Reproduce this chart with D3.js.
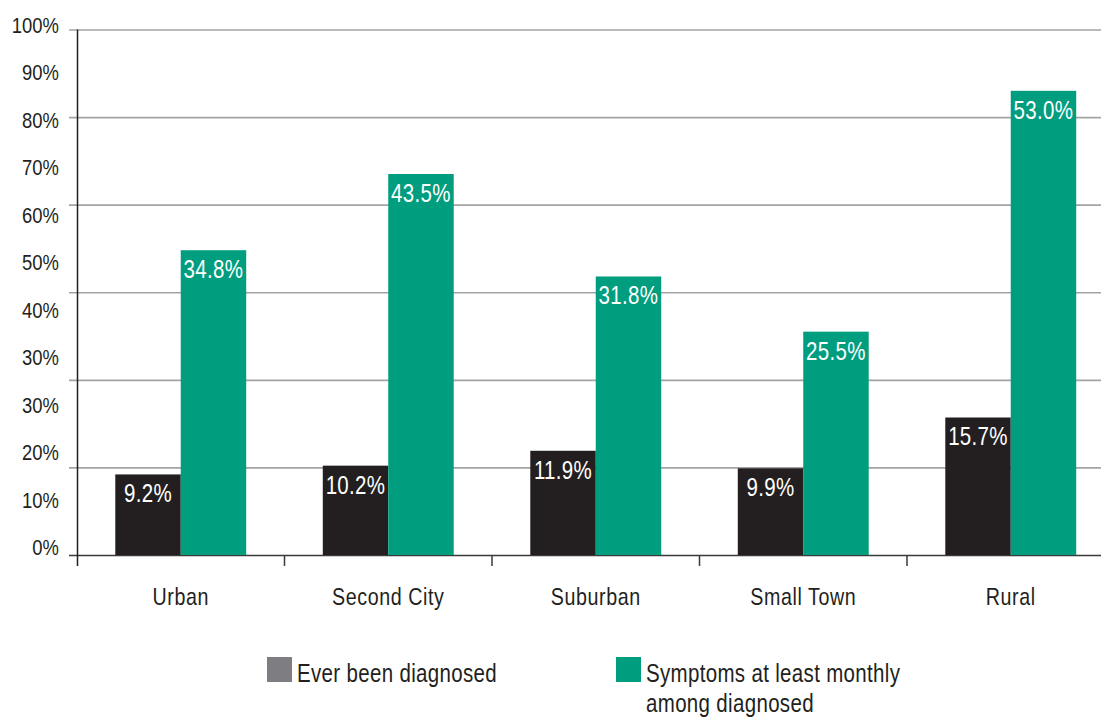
<!DOCTYPE html>
<html>
<head>
<meta charset="utf-8">
<script src="https://cdn.jsdelivr.net/npm/d3@7"></script>
<style>
  html, body { margin: 0; padding: 0; background: #fff; }
  svg { display: block; }
  text { font-family: "Liberation Sans", Arial, sans-serif; fill: #231f20; }
</style>
</head>
<body>
<svg id="chart" width="1101" height="717"></svg>
<script>
// Area type categories and the two series (percent)
const categories = ["Urban", "Second City", "Suburban", "Small Town", "Rural"];
const everDiagnosed = [9.2, 10.2, 11.9, 9.9, 15.7];
const symptomsMonthly = [34.8, 43.5, 31.8, 25.5, 53.0];
const seriesNames = ["Ever been diagnosed", "Symptoms at least monthly among diagnosed"];
// Printed labels on the vertical axis, bottom to top
const yTickLabels = ["0%", "10%", "20%", "30%", "30%", "40%", "50%", "60%", "70%", "80%", "90%", "100%"];
const gridValues = [0, 10, 20, 30, 40, 50, 60];

const colors = { diag: "#231f20", symp: "#009d7e", diagKey: "#7d7d82" };
// Horizontal squeeze giving a condensed look to all text
const SQ = 0.82;

const svg = d3.select("#chart");
const W = 1101;
const axisX = 77.5, baseY = 555, topY = 29.5, gridLeft = 69;

const y = d3.scaleLinear().domain([0, 60]).range([baseY, topY]);

const x = d3.scaleBand()
  .domain(categories)
  .range([77, 77 + 5 * 207.5])
  .paddingInner(0.369)
  .paddingOuter(0.1845);

const xSub = d3.scaleBand()
  .domain(["diag", "symp"])
  .range([0, x.bandwidth()]);

// Condensed text helper: places text at (px, py) squeezed horizontally
function ctext(sel, px, py) {
  return sel.append("text")
    .attr("transform", `translate(${px},${py}) scale(${SQ},1)`);
}

// Horizontal gridlines
const grid = svg.append("g")
  .attr("transform", `translate(${W},0)`)
  .call(d3.axisLeft(y).tickValues(gridValues).tickSize(W - gridLeft).tickFormat(""));
grid.select(".domain").remove();
grid.selectAll(".tick line")
  .attr("stroke", d => d === 0 ? "#3a3a3a" : "#a3a3a3")
  .attr("stroke-width", 1.6);

// Printed tick labels on an evenly spaced point scale
const yLab = d3.scalePoint().domain(d3.range(yTickLabels.length)).range([547.5, 25]);
const yAxis = svg.append("g")
  .attr("transform", "translate(59,0)")
  .call(d3.axisLeft(yLab).tickSize(0).tickPadding(0).tickFormat(i => yTickLabels[i]));
yAxis.select(".domain").remove();
yAxis.selectAll("text")
  .style("font-family", null)
  .attr("x", 0)
  .attr("transform", `scale(${SQ},1)`)
  .attr("font-size", 22.5)
  .attr("fill", "#231f20");

// Bars
const rows = categories.map((c, i) => ({ cat: c, diag: everDiagnosed[i], symp: symptomsMonthly[i] }));
const groups = svg.append("g").selectAll("g")
  .data(rows)
  .join("g")
  .attr("transform", d => `translate(${x(d.cat)},0)`);

const bars = groups.selectAll("g.bar")
  .data(d => ["diag", "symp"].map(k => ({ key: k, value: d[k] })))
  .join("g")
  .attr("class", "bar");

bars.append("rect")
  .attr("x", d => xSub(d.key))
  .attr("width", xSub.bandwidth())
  .attr("y", d => y(d.value))
  .attr("height", d => baseY - y(d.value))
  .attr("fill", d => colors[d.key]);

bars.append("text")
  .attr("transform", d => `translate(${xSub(d.key) + xSub.bandwidth() / 2},${y(d.value) + 28}) scale(${SQ},1)`)
  .attr("text-anchor", "middle")
  .attr("font-size", 25)
  .attr("letter-spacing", 0.4)
  .style("fill", "#ffffff")
  .text(d => d.value.toFixed(1) + "%");

// Left axis line and category separators below the baseline
svg.append("line")
  .attr("x1", axisX).attr("x2", axisX)
  .attr("y1", topY).attr("y2", 566)
  .attr("stroke", "#231f20").attr("stroke-width", 1.5);

const xAxisG = svg.append("g");
xAxisG.selectAll("line")
  .data(categories.slice(1))
  .join("line")
  .attr("x1", d => x(d) - (x.step() - x.bandwidth()) / 2)
  .attr("x2", d => x(d) - (x.step() - x.bandwidth()) / 2)
  .attr("y1", baseY).attr("y2", 566)
  .attr("stroke", "#3a3a3a").attr("stroke-width", 1.5);

xAxisG.selectAll("text")
  .data(categories)
  .join("text")
  .attr("transform", d => `translate(${x(d) + x.bandwidth() / 2},605) scale(${SQ},1)`)
  .attr("text-anchor", "middle")
  .attr("font-size", 24)
  .attr("letter-spacing", 0.7)
  .text(d => d);

// Legend
const legend = svg.append("g");
legend.append("rect").attr("x", 267).attr("y", 657).attr("width", 25).attr("height", 25).attr("fill", colors.diagKey);
ctext(legend, 297, 682).attr("font-size", 25).attr("letter-spacing", 0.4).text(seriesNames[0]);

legend.append("rect").attr("x", 616).attr("y", 657).attr("width", 25).attr("height", 25).attr("fill", colors.symp);
ctext(legend, 646, 682).attr("font-size", 25).attr("letter-spacing", 0.4).text("Symptoms at least monthly");
ctext(legend, 646, 712).attr("font-size", 25).attr("letter-spacing", 0.4).text("among diagnosed");
</script>
</body>
</html>
